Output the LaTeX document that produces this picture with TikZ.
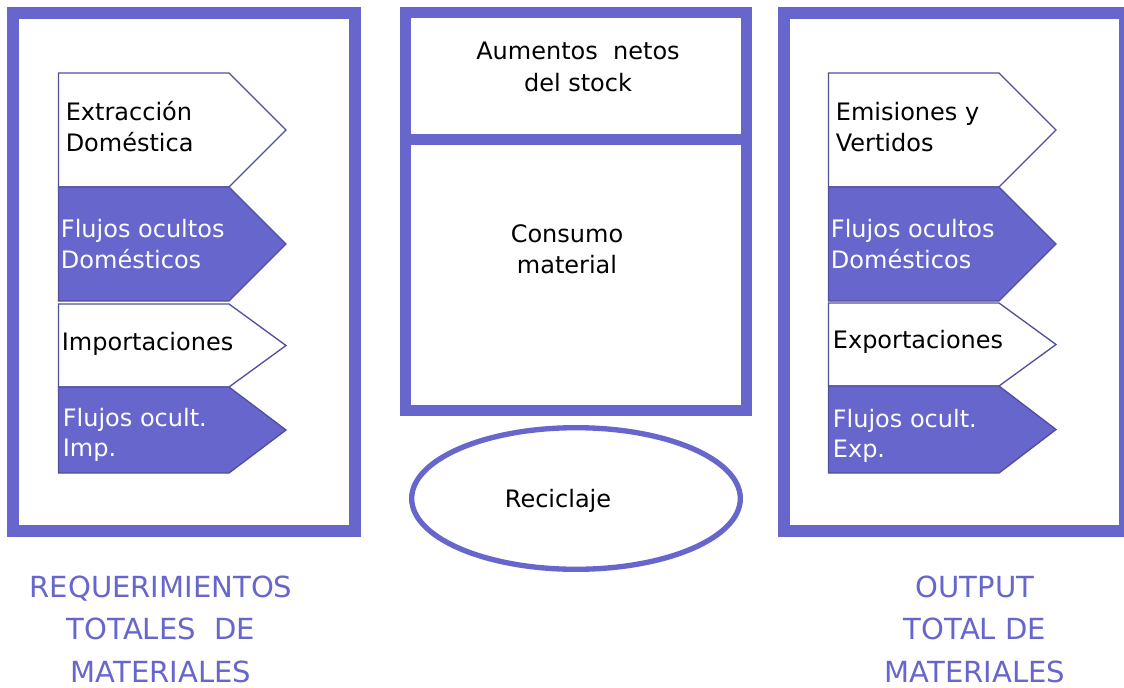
\documentclass[tikz,border=0pt]{standalone}
\usepackage{fontspec}
\setmainfont{DejaVu Sans}
\usetikzlibrary{shapes.geometric}
\definecolor{frame}{HTML}{6666CC}
\definecolor{edgeblue}{HTML}{50509E}
\newcommand\lstk[2]{\vtop{\baselineskip=22.9pt\hbox{#1}\hbox{#2}}}
\newcommand\cstk[2]{\vtop{\baselineskip=24pt\halign{\hfil##\hfil\cr#1\cr#2\cr}}}
\newcommand\cstkk[3]{\vtop{\baselineskip=32pt\halign{\hfil##\hfil\cr#1\cr#2\cr#3\cr}}}
\newcommand\pent[4]{%
  \pgfmathsetmacro\pmid{(#2+#3)/2}%
  \pgfmathsetmacro\pxa{#1+170.5}%
  \pgfmathsetmacro\pxb{#1+227.5}%
  \draw[#4] (#1,#2) -- (\pxa,#2) -- (\pxb,\pmid) -- (\pxa,#3) -- (#1,#3) -- cycle;}
\begin{document}
\begin{tikzpicture}[x=0.75pt,y=-0.75pt,
  sideframe/.style={draw=frame,line width=9pt},
  midframe/.style={draw=frame,line width=8.25pt},
  arrw/.style={draw=edgeblue,line width=1pt,fill=white},
  arrf/.style={draw=edgeblue,line width=1pt,fill=frame},
  lbl/.style={anchor=base west,inner sep=0pt,text=black,font=\fontsize{18}{22}\selectfont},
  wlbl/.style={lbl,text=white},
  clbl/.style={anchor=base,inner sep=0pt,text=black,font=\fontsize{18}{22}\selectfont},
  caplbl/.style={anchor=base,inner sep=0pt,text=frame,font=\fontsize{21.8}{32}\selectfont}]
\useasboundingbox (0,0) rectangle (1124,688);
\fill[white] (0,0) rectangle (1124,688);
% frames
\draw[sideframe] (13,13) rectangle (355,530.5);
\draw[sideframe] (784,13) rectangle (1125,531);
\draw[midframe] (405.5,13) rectangle (746,410);
\draw[midframe] (405.5,140) -- (746,140);
\node[draw=frame,line width=4pt,ellipse,minimum width=246.5pt,minimum height=106.2pt,inner sep=0pt] (recicl) at (576,498.5) {};
% left arrows
\pent{58.5}{73}{187}{arrw}
\pent{58.5}{187}{301}{arrf}
\pent{58.5}{304}{387}{arrw}
\pent{58.5}{387}{473}{arrf}
% right arrows
\pent{828.5}{73}{187}{arrw}
\pent{828.5}{187}{301}{arrf}
\pent{828.5}{303}{386}{arrw}
\pent{828.5}{386}{473}{arrf}
% left labels
\node[lbl] (extr) at (65.5,121) {\lstk{Extracción}{Doméstica}};
\node[wlbl] (fodl) at (60.7,238) {\lstk{Flujos ocultos}{Domésticos}};
\node[lbl] (impo) at (61.6,350) {Importaciones};
\node[wlbl] (foim) at (62.6,426) {\lstk{Flujos ocult.}{Imp.}};
% right labels
\node[lbl] (emis) at (835.6,121) {\lstk{Emisiones y}{Vertidos}};
\node[wlbl] (fodr) at (830.7,238) {\lstk{Flujos ocultos}{Domésticos}};
\node[lbl] (expo) at (832.6,348) {Exportaciones};
\node[wlbl] (foex) at (832.6,427) {\lstk{Flujos ocult.}{Exp.}};
% middle labels
\node[clbl] (aume) at (578,60) {\cstk{Aumentos\ \ netos}{del stock}};
\node[clbl] (cons) at (567,242) {\cstk{Consumo}{material}};
\node[clbl] (reci) at (558,507) {Reciclaje};
% bottom captions
\node[caplbl] (reqt) at (161,597) {\cstkk{REQUERIMIENTOS}{TOTALES\ \ DE}{MATERIALES}};
\node[caplbl] (outp) at (975,597) {\cstkk{OUTPUT}{TOTAL DE}{MATERIALES}};
\end{tikzpicture}
\end{document}
